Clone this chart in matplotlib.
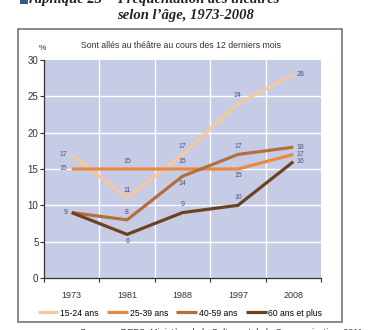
import matplotlib
matplotlib.use("Agg")
import matplotlib.pyplot as plt
from matplotlib.patches import Rectangle
import numpy as np

years = ["1973", "1981", "1988", "1997", "2008"]
groups = ["15-24 ans", "25-39 ans", "40-59 ans", "60 ans et plus"]
v_15_24 = [17, 11, 17, 24, 28]
v_25_39 = [15, 15, 15, 15, 17]
v_40_59 = [9, 8, 14, 17, 18]
v_60 = [9, 6, 9, 10, 16]
series = [v_15_24, v_25_39, v_40_59, v_60]
colors = ["#f6c8a0", "#e8893f", "#b4703c", "#6c4320"]

# where each value label sits: l = left, r = right, a = above, b = below, None = not shown
label_pos = [
    ["l", "a", "a", "a", "r"],
    ["l", "a", "a", "b", "r"],
    ["l", "a", "b", "a", "r"],
    [None, "b", "a", "a", "r"],
]
offsets = {"l": (-3, 0), "r": (2.5, 0), "a": (0, 5.5), "b": (0, -5)}
align = {"l": "right", "r": "left", "a": "center", "b": "center"}

sans = ["Liberation Sans", "DejaVu Sans"]
serif = ["Liberation Serif", "DejaVu Serif"]

fig = plt.figure(figsize=(3.71, 3.30), dpi=100)
fig.patch.set_facecolor("white")

# frame around the chart
fig.patches.append(Rectangle((18 / 371, 8 / 330), 324 / 371, 293 / 330,
                             transform=fig.transFigure, fill=False,
                             edgecolor="#6a6a6a", linewidth=1.1))

# page title (partly cut at the top)
fig.patches.append(Rectangle((20 / 371, 326 / 330), 8 / 371, 6 / 330,
                             transform=fig.transFigure, facecolor="#3a5a8c",
                             edgecolor="none"))
fig.text(29 / 371, 327 / 330, "raphique 23", family=serif, weight="bold",
         style="italic", fontsize=10.5, va="baseline", color="#222222")
fig.text(117 / 371, 327 / 330, "Fréquentation des théâtres", family=serif,
         weight="bold", style="italic", fontsize=10.5, va="baseline", color="#222222")
fig.text(117 / 371, 311 / 330, "selon l’âge, 1973-2008", family=serif,
         weight="bold", style="italic", fontsize=10.5, va="baseline", color="#222222")

# source line (cut at the bottom)
fig.text(80 / 371, -5 / 330,
         "Sources : DEPS, Ministère de la Culture et de la Communication, 2011",
         family=sans, fontsize=6.5, va="baseline", color="#333333")

ax = fig.add_axes([44 / 371, 52 / 330, 277 / 371, 218 / 330])
ax.set_facecolor("#c6cce6")
x = np.arange(len(years))
ax.set_xlim(-0.5, len(years) - 0.5)
ax.set_ylim(0, 30)

for b in np.arange(0.5, len(years) - 0.5, 1):
    ax.axvline(b, color="white", linewidth=1.0, zorder=1)
for yv in [5, 10, 15, 20, 25]:
    ax.axhline(yv, color="white", linewidth=1.0, zorder=1)

for vals, col, name, pos in zip(series, colors, groups, label_pos):
    ax.plot(x, vals, color=col, linewidth=2.3, label=name, zorder=3,
            solid_capstyle="butt")
    for xi, v, p in zip(x, vals, pos):
        if p is None:
            continue
        ax.annotate(str(v), (xi, v), xytext=offsets[p], textcoords="offset points",
                    ha=align[p], va="center", fontsize=5, family=sans,
                    color="#4c5275", zorder=4)

for s in ["top", "right"]:
    ax.spines[s].set_visible(False)
for s in ["left", "bottom"]:
    ax.spines[s].set_color("#333333")
    ax.spines[s].set_linewidth(0.9)

ax.set_yticks([0, 5, 10, 15, 20, 25, 30])
ax.tick_params(axis="y", length=3, width=0.8, color="#333333", pad=1,
               labelsize=7, labelcolor="#333333")
for t in ax.get_yticklabels():
    t.set_family(sans)

ax.set_xticks(x)
ax.set_xticklabels(years, family=sans, fontsize=6.5, color="#333333")
ax.set_xticks(np.arange(-0.5, len(years)), minor=True)
ax.tick_params(axis="x", which="major", length=0, pad=9)
ax.tick_params(axis="x", which="minor", length=3, width=0.8, color="#333333")

ax.text(-0.004, 1.055, "%", transform=ax.transAxes, family=sans, fontsize=6,
        ha="center", va="center", color="#333333")
fig.text(181 / 371, 285 / 330, "Sont allés au théâtre au cours des 12 derniers mois",
         family=sans, fontsize=6.3, ha="center", va="center", color="#333333")

fig.legend(loc="center", bbox_to_anchor=(180 / 371, 17 / 330), ncol=4,
           frameon=False, prop={"family": sans, "size": 6.2},
           handlelength=2.4, handletextpad=0.2, columnspacing=1.0,
           borderaxespad=0)

fig.savefig("out.png", dpi=100)
